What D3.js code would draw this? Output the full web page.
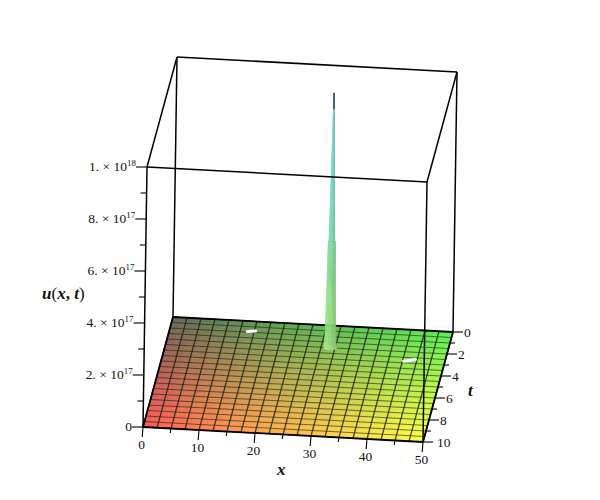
<!DOCTYPE html>
<html>
<head>
<meta charset="utf-8">
<script src="https://cdn.jsdelivr.net/npm/d3@7"></script>
<style>
html,body{margin:0;padding:0;background:#fff;}
svg{display:block;}
text{font-family:"Liberation Serif","Times New Roman",serif;fill:#111;}
</style>
</head>
<body>
<svg id="chart" width="600" height="500"></svg>
<script>
// ---- data ----
const xDomain = [0, 50];
const tDomain = [0, 10];
const uDomain = [0, 1e18];

const xTicks = [0,5,10,15,20,25,30,35,40,45,50];
const xLabels = [0,10,20,30,40,50];
const tTicks = [0,1,2,3,4,5,6,7,8,9,10];
const tLabels = [0,2,4,6,8,10];
const uTicks = [0,1e17,2e17,3e17,4e17,5e17,6e17,7e17,8e17,9e17,1e18];
const uLabels = [
  {v:0,       mant:"0",      exp:""},
  {v:2e17,    mant:"2. × 10", exp:"17"},
  {v:4e17,    mant:"4. × 10", exp:"17"},
  {v:6e17,    mant:"6. × 10", exp:"17"},
  {v:8e17,    mant:"8. × 10", exp:"17"},
  {v:1e18,    mant:"1. × 10", exp:"18"}
];
const gridX = [0,2.5,5,7.5,10,12.5,15,17.5,20,22.5,25,27.5,30,32.5,35,37.5,40,42.5,45,47.5,50];
const gridT = [0,.5,1,1.5,2,2.5,3,3.5,4,4.5,5,5.5,6,6.5,7,7.5,8,8.5,9,9.5,10];

// the spike of u(x,t)
const spikeX = 29.15;
const spikeT = 2.0;
const spikeU      = [0, 2e16, 6e16, 1.5e17, 2.5e17, 3.3e17, 4.1e17, 4.1e17, 5.2e17, 6.4e17, 7.6e17, 8.8e17, 9.2e17, 9.8e17];
const spikeRadius = [1.15, 1.02, .95, .85, .76, .7, .64, .52, .42, .31, .2, .1, .07, .03];
const spikeColor  = ["#a2dc86","#9adb80","#93d97f","#8bd784","#84d48e","#7fd298","#7cd2a4","#7ad2ae","#7ad2ba","#78d0c2","#74ccc6","#70c4c4","#3e5f78","#2c4468"];

// holes in the surface
const holes = [
  {x0:13.8, t0:0.95, x1:15.2, t1:0.85},
  {x0:42.7, t0:2.85, x1:44.7, t1:2.65}
];

// colours at surface corners
const colBackLeft = "#5f6458", colBackRight = "#52f052", colFrontLeft = "#ff5555", colFrontRight = "#ffff48";

// ---- projection built on d3 scales ----
const sxX = d3.scaleLinear().domain(xDomain).range([0,280]);
const sxY = d3.scaleLinear().domain(xDomain).range([0,15]);
const stX = d3.scaleLinear().domain(tDomain).range([173,143]);
const stY = d3.scaleLinear().domain(tDomain).range([317,427]);
const szX = d3.scaleLinear().domain(uDomain).range([0,4]);
const szY = d3.scaleLinear().domain(uDomain).range([0,-260]);
const P = (x,t,u=0) => [sxX(x)+stX(t)+szX(u), sxY(x)+stY(t)+szY(u)];

const svg = d3.select("#chart");
const line = d3.line();
const seg = (g,a,b,w,c="#000") => g.append("path").attr("d",line([a,b])).attr("fill","none")
  .attr("stroke",c).attr("stroke-width",w);

// back box edges
const back = svg.append("g");
const [x0,x1]=xDomain,[t0,t1]=tDomain,[u0,u1]=uDomain;
seg(back,P(x0,t0,u0),P(x0,t0,u1),1.5);
seg(back,P(x1,t0,u0),P(x1,t0,u1),1.5);
seg(back,P(x0,t0,u1),P(x1,t0,u1),1.5);
seg(back,P(x0,t0,u1),P(x0,t1,u1),1.5);
seg(back,P(x1,t0,u1),P(x1,t1,u1),1.5);

// surface with a bilinear colour field
const surf = svg.append("g");
const subX = d3.range(0,101).map(i=>x0+(x1-x0)*i/100);
const subT = d3.range(0,56).map(i=>t0+(t1-t0)*i/55);
const mix = d3.interpolateRgb.gamma(1.5);
const lerpBack = mix(colBackLeft,colBackRight);
const lerpFront = mix(colFrontLeft,colFrontRight);
const fx = d3.scaleLinear().domain(xDomain).range([0,1]);
const ft = d3.scaleLinear().domain(tDomain).range([0,1]);
for(let i=0;i<subX.length-1;i++){
  for(let j=0;j<subT.length-1;j++){
    const xa=subX[i],xb=subX[i+1],ta=subT[j],tb=subT[j+1];
    const c=mix(lerpBack(fx((xa+xb)/2)),lerpFront(fx((xa+xb)/2)))(ft((ta+tb)/2));
    surf.append("path").attr("d",line([P(xa,ta),P(xb,ta),P(xb,tb),P(xa,tb)])+"Z")
      .attr("fill",c).attr("stroke",c).attr("stroke-width",.6);
  }
}
// mesh
const mesh = svg.append("g");
gridX.forEach(x=>seg(mesh,P(x,t0),P(x,t1),1.25,"rgba(25,30,10,.8)"));
gridT.forEach(t=>seg(mesh,P(x0,t),P(x1,t),1,"rgba(25,30,10,.6)"));

// holes
const holeG = svg.append("g");
holes.forEach(h=>holeG.append("path").attr("d",line([P(h.x0,h.t0),P(h.x1,h.t1)]))
  .attr("stroke","#fff").attr("stroke-width",3).attr("stroke-linecap","round").attr("fill","none"));

// surface border
const border = svg.append("g");
seg(border,P(x0,t0),P(x1,t0),1.8);
seg(border,P(x0,t1),P(x1,t1),1.8);
seg(border,P(x0,t0),P(x0,t1),1.8);
seg(border,P(x1,t0),P(x1,t1),1.8);

// spike
const spike = svg.append("g");
const tRatio = 0.19; // ellipse flattening of the cross-section in t units per x unit
const angles = d3.range(0,13).map(i=>Math.PI*i/12);
const ring = (k,a)=>P(spikeX+spikeRadius[k]*Math.cos(a), spikeT+spikeRadius[k]*tRatio*Math.sin(a), spikeU[k]);
spike.append("path")
  .attr("d",line(d3.range(0,37).map(i=>P(spikeX+spikeRadius[0]*Math.cos(i*Math.PI/18),spikeT+spikeRadius[0]*tRatio*Math.sin(i*Math.PI/18),0)))+"Z")
  .attr("fill",spikeColor[0]);
for(let k=0;k<spikeU.length-1;k++){
  for(let a=0;a<angles.length-1;a++){
    const mid=(angles[a]+angles[a+1])/2;
    // lit from the left: a little lighter on the left, darker on the right
    const shade=Math.cos(mid);
    const base=d3.color(spikeColor[k]);
    const c=shade>0?base.darker(shade*.35):base.brighter(-shade*.12);
    spike.append("path")
      .attr("d",line([ring(k,angles[a]),ring(k,angles[a+1]),ring(k+1,angles[a+1]),ring(k+1,angles[a])])+"Z")
      .attr("fill",c.formatRgb()).attr("stroke",c.formatRgb()).attr("stroke-width",.3);
  }
}

// front box edges
const front = svg.append("g");
seg(front,P(x0,t1,u0),P(x0,t1,u1),1.5);
seg(front,P(x1,t1,u0),P(x1,t1,u1),1.5);
seg(front,P(x0,t1,u1),P(x1,t1,u1),1.5);

// ticks and labels
const ax = svg.append("g");
const majorU = new Set(uLabels.map(d=>d.v));
uTicks.forEach(v=>{
  const p=P(x0,t1,v), L=majorU.has(v)?11:6;
  seg(ax,p,[p[0]-L,p[1]],1.1);
});
const majorX = new Set(xLabels);
xTicks.forEach(v=>{
  const p=P(v,t1), L=majorX.has(v)?10:4.5;
  seg(ax,p,[p[0]-.8,p[1]+L],1.1);
});
const majorT = new Set(tTicks.filter(v=>tLabels.includes(v)));
tTicks.forEach(v=>{
  const p=P(x1,v), L=majorT.has(v)?10:5;
  seg(ax,p,[p[0]+L,p[1]],1.1);
});
const fs = 13.5;
xLabels.forEach(v=>{
  const p=P(v,t1);
  ax.append("text").attr("x",p[0]-1.5).attr("y",p[1]+22).attr("text-anchor","middle")
    .attr("font-size",fs).text(v);
});
tLabels.forEach(v=>{
  const p=P(x1,v);
  ax.append("text").attr("x",p[0]+(v===10?14:11)).attr("y",p[1]+5).attr("text-anchor","start")
    .attr("font-size",fs).text(v);
});
uLabels.forEach(d=>{
  const p=P(x0,t1,d.v);
  const s=ax.append("text").attr("x",p[0]-11).attr("y",p[1]+4).attr("text-anchor","end").attr("font-size",fs);
  s.append("tspan").text(d.mant);
  if(d.exp) s.append("tspan").attr("font-size",9).attr("dy",-5).text(d.exp);
});

// axis titles
const bi = (s,t)=>s.append("tspan").attr("font-weight","bold").attr("font-style","italic").text(t);
const r = (s,t)=>s.append("tspan").text(t);
const ut = ax.append("text").attr("x",42).attr("y",299).attr("font-size",17);
bi(ut,"u"); r(ut,"("); bi(ut,"x"); ut.append("tspan").attr("font-weight","bold").text(", "); bi(ut,"t"); r(ut,")");
bi(ax.append("text").attr("x",277).attr("y",475).attr("font-size",17),"x");
bi(ax.append("text").attr("x",468).attr("y",396).attr("font-size",17),"t");
</script>
</body>
</html>
